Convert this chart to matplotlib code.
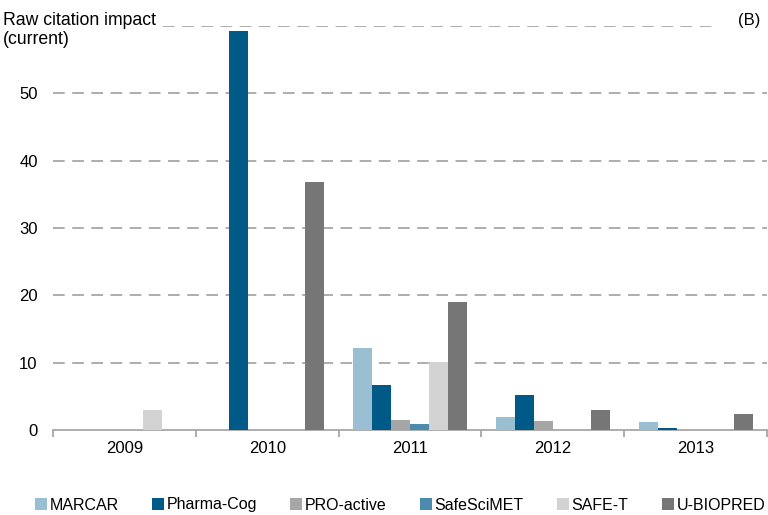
import matplotlib
matplotlib.use("Agg")
import matplotlib.pyplot as plt
import numpy as np

plt.rcParams['font.family'] = ['Liberation Sans', 'DejaVu Sans']

years = ["2009", "2010", "2011", "2012", "2013"]
series = ["MARCAR", "Pharma-Cog", "PRO-active", "SafeSciMET", "SAFE-T", "U-BIOPRED"]
marcar = [0, 0, 12.2, 1.9, 1.2]
pharma_cog = [0, 59.2, 6.7, 5.2, 0.35]
pro_active = [0, 0, 1.5, 1.3, 0]
safescimet = [0, 0, 0.9, 0, 0]
safe_t = [3.0, 0, 10.1, 0, 0]
u_biopred = [0, 36.9, 19.0, 3.0, 2.4]
values = [marcar, pharma_cog, pro_active, safescimet, safe_t, u_biopred]
colors = ["#9BBFD2", "#005A87", "#A6A6A6", "#4A8BAE", "#D3D3D3", "#767676"]
yticks = [0, 10, 20, 30, 40, 50]

fig = plt.figure(figsize=(7.68, 5.15), dpi=100)
ax = fig.add_axes([53/768, 1-430/515, 714/768, (430-26)/515])

n = len(series)
bw = 0.133
x = np.arange(len(years))
for i, (name, vals, c) in enumerate(zip(series, values, colors)):
    ax.bar(x + (i - (n-1)/2) * bw, vals, width=bw, color=c, label=name, zorder=3)

ax.set_xlim(-0.5, len(years) - 0.5)
ax.set_ylim(0, 60)

gcol = "#A0A0A0"
for t in yticks[1:]:
    ax.axhline(t, color=gcol, lw=1.2, dashes=(7, 4.5), zorder=1)
ax.axhline(60, xmin=(163-53)/714, xmax=(716-53)/714, color=gcol, lw=1.2, dashes=(7, 4.5), zorder=1)

for s in ["top", "right", "left"]:
    ax.spines[s].set_visible(False)
ax.spines["bottom"].set_color(gcol)
ax.spines["bottom"].set_linewidth(1.2)

ax.set_yticks(yticks)
ax.set_yticklabels([str(t) for t in yticks], fontsize=12)
ax.tick_params(axis="y", length=0, pad=11)

ax.set_xticks(x)
ax.set_xticklabels(years, fontsize=12)
ax.tick_params(axis="x", length=0, pad=8)
ax.set_xticks(np.arange(-0.5, len(years)), minor=True)
ax.tick_params(axis="x", which="minor", length=5, color=gcol, width=1.2)

fig.text(3/768, 1-12/515, "Raw citation impact\n(current)", fontsize=12.7, va="top", ha="left", linespacing=1.12)
fig.text(738/768, 1-20/515, "(B)", fontsize=12, va="center", ha="left")

leg = fig.legend(loc="center", bbox_to_anchor=(400/768, 1-505/515), ncol=6, frameon=False,
                 fontsize=11.5, handlelength=0.75, handleheight=0.75, handletextpad=0.15,
                 columnspacing=2.1)

fig.savefig("out.png", dpi=100)
